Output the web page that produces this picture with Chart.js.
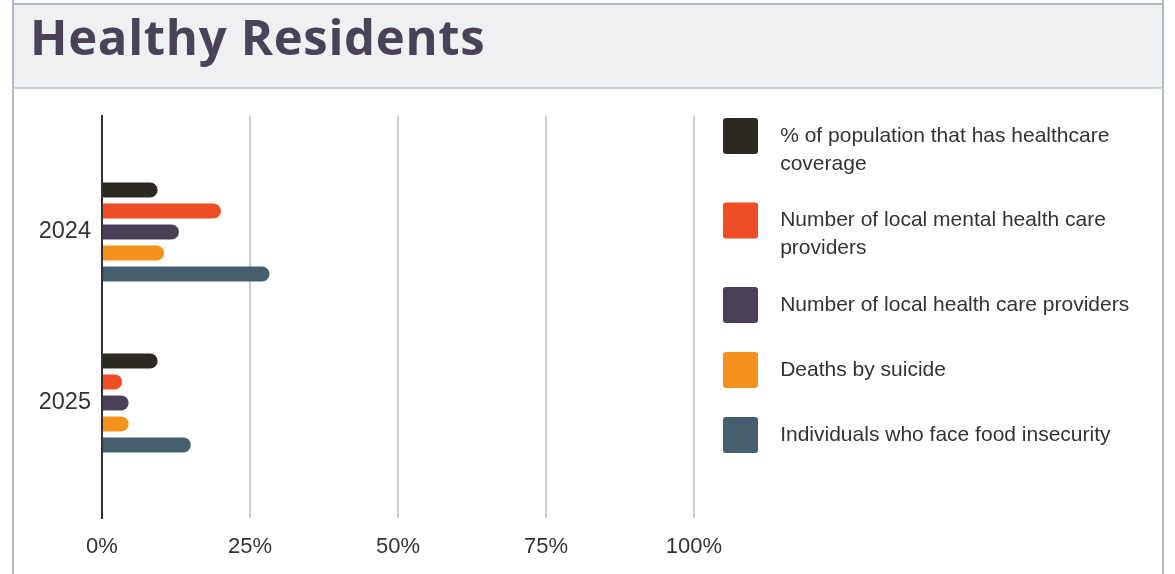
<!DOCTYPE html>
<html>
<head>
<meta charset="utf-8">
<title>Healthy Residents</title>
<script src="https://cdn.jsdelivr.net/npm/chart.js@4.4.1/dist/chart.umd.min.js"></script>
<style>
  html, body { margin: 0; padding: 0; background: #ffffff; }
  body { width: 1175px; height: 574px; position: relative; overflow: hidden; }
  .frame {
    position: absolute; left: 12px; top: 0; width: 1152px; height: 574px;
    box-sizing: border-box; border-left: 2px solid #aeb9c3; border-right: 2px solid #aeb9c3;
  }
  .header {
    position: absolute; left: 12px; top: 3px; width: 1152px; height: 86px;
    box-sizing: border-box; background: #eef0f2;
    border: 2px solid #aeb9c3; border-bottom-color: #c8d0d7;
  }
  h1 {
    position: absolute; left: 30px; top: 12px; margin: 0;
    font-family: 'Open Sans', 'Noto Sans', sans-serif; font-weight: 700;
    font-size: 49px; line-height: 48px; letter-spacing: 0.7px; color: #4a4256;
    white-space: nowrap;
  }
  #chart { position: absolute; left: 14px; top: 89px; }
</style>
</head>
<body>
<div class="frame"></div>
<div class="header"></div>
<h1>Healthy Residents</h1>
<canvas id="chart" width="1148" height="485"></canvas>
<script>
// Years shown on the vertical axis
const years = ['2024', '2025'];

// Indicator names, and how each one is broken into legend lines
const seriesNames = [
  '% of population that has healthcare coverage',
  'Number of local mental health care providers',
  'Number of local health care providers',
  'Deaths by suicide',
  'Individuals who face food insecurity'
];
const legendLines = [
  ['% of population that has healthcare', 'coverage'],
  ['Number of local mental health care', 'providers'],
  'Number of local health care providers',
  'Deaths by suicide',
  'Individuals who face food insecurity'
];
const seriesColors = ['#2c2822', '#ef4d23', '#4a4158', '#f6931e', '#465f6e'];

// Values in percent, one entry per year (2024, 2025)
const healthcareCoverage = [9.4, 9.4];
const mentalHealthProviders = [20.1, 3.4];
const healthCareProviders = [13.0, 4.5];
const suicideDeaths = [10.5, 4.5];
const foodInsecurity = [28.3, 15.0];

// Percent ticks along the horizontal axis
const percentTicks = [0, 25, 50, 75, 100];

const seriesValues = [healthcareCoverage, mentalHealthProviders, healthCareProviders, suicideDeaths, foodInsecurity];

const FONT = "'Liberation Sans', Arial, sans-serif";
const INDENT = '  ';
const legendFont = { family: FONT, size: 21, lineHeight: 1.32 };
const BOX_W = 35, BOX_H = 36, LEGEND_PAD = 29;
const CANVAS_W = 1148;
const PLOT_RIGHT = 680;   // right edge of the plot, where the legend column begins
const AXIS_LEFT = 88;     // width kept for the year labels
const TOP_GAP = 27;       // space above the plot
const BOTTOM_AXIS_H = 56; // space below the plot for percent labels

const legendText = legendLines.map(l => Array.isArray(l) ? l.map(s => INDENT + s) : INDENT + l);

// Legend width follows the same measuring rule Chart.js uses, so the legend
// column can be made to start exactly at the plot's right edge.
const mctx = document.createElement('canvas').getContext('2d');
mctx.font = legendFont.size + 'px ' + FONT;
const widest = Math.max(...legendText.map(t => {
  const s = Array.isArray(t) ? t.reduce((a, b) => (a.length > b.length ? a : b)) : t;
  return mctx.measureText(s).width;
}));
const legendWidth = LEGEND_PAD + BOX_W + legendFont.size / 2 + widest + 10;
const padRight = Math.max(0, CANVAS_W - PLOT_RIGHT - legendWidth);

const datasets = seriesValues.map((vals, s) => ({
  label: seriesNames[s],
  data: vals.map((v, i) => ({ x: v, y: i })),
  backgroundColor: seriesColors[s],
  borderWidth: 0,
  borderRadius: 7.5,
  borderSkipped: 'start',
  barPercentage: 0.714,
  categoryPercentage: 0.614
}));

new Chart(document.getElementById('chart'), {
  type: 'bar',
  data: { datasets },
  options: {
    indexAxis: 'y',
    responsive: false,
    animation: false,
    layout: { padding: { left: 0, top: 0, right: padRight, bottom: 0 } },
    scales: {
      x: {
        type: 'linear',
        position: 'bottom',
        min: percentTicks[0],
        max: percentTicks[percentTicks.length - 1],
        afterBuildTicks: (scale) => { scale.ticks = percentTicks.map(v => ({ value: v })); },
        afterFit: (scale) => { scale.paddingLeft = 0; scale.paddingRight = 0; scale.height = BOTTOM_AXIS_H; },
        grid: {
          drawTicks: false,
          lineWidth: 2,
          color: (ctx) => (ctx.tick && ctx.tick.value === 0 ? 'rgba(0,0,0,0)' : '#cccccc')
        },
        border: { display: false },
        ticks: {
          padding: 16,
          color: '#333333',
          font: { family: FONT, size: 22 },
          maxRotation: 0,
          callback: (v) => v + '%'
        }
      },
      xTop: {
        type: 'linear',
        position: 'top',
        display: true,
        afterFit: (scale) => { scale.height = TOP_GAP; scale.paddingLeft = 0; scale.paddingRight = 0; },
        grid: { display: false, drawTicks: false },
        border: { display: false },
        ticks: { display: false }
      },
      y: {
        type: 'linear',
        position: 'left',
        reverse: true,
        offset: false,
        min: -0.678,
        max: 1.673,
        afterBuildTicks: (scale) => { scale.ticks = years.map((_, i) => ({ value: i })); },
        afterFit: (scale) => { scale.width = AXIS_LEFT; scale.paddingTop = 0; scale.paddingBottom = 0; },
        grid: { display: false, drawTicks: false, offset: false },
        border: { display: true, color: '#333333', width: 2 },
        ticks: {
          padding: 11,
          color: '#333333',
          font: { family: FONT, size: 23.5 },
          callback: (v) => years[v]
        }
      }
    },
    plugins: {
      tooltip: { enabled: false },
      legend: {
        position: 'right',
        align: 'start',
        maxWidth: Math.ceil(legendWidth),
        labels: {
          boxWidth: BOX_W,
          boxHeight: BOX_H,
          padding: LEGEND_PAD,
          color: '#333333',
          font: legendFont,
          useBorderRadius: true,
          borderRadius: 3,
          generateLabels: (chart) => {
            const items = Chart.defaults.plugins.legend.labels.generateLabels(chart);
            items.forEach((item, i) => {
              item.text = legendText[i];
              item.lineWidth = 0;
              item.borderRadius = 3;
            });
            return items;
          }
        }
      }
    }
  }
});
</script>
</body>
</html>
